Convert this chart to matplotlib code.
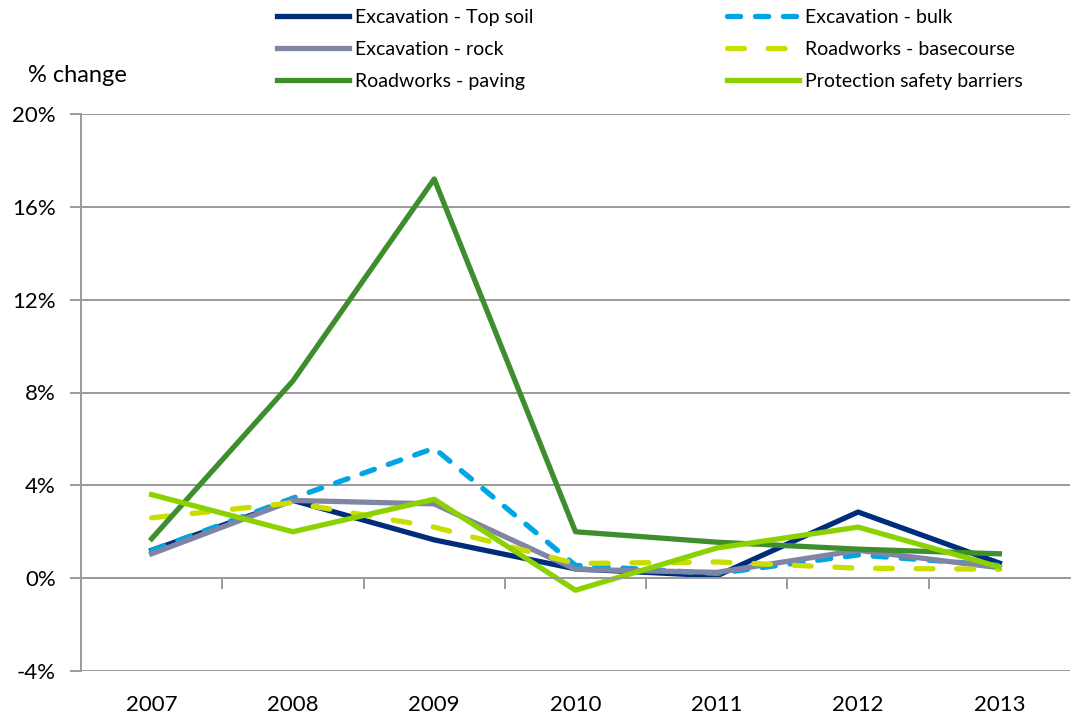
import matplotlib.pyplot as plt
from matplotlib.ticker import FixedLocator, PercentFormatter

years = ['2007', '2008', '2009', '2010', '2011', '2012', '2013']

# % change per year
top_soil = [1.2, 3.35, 1.65, 0.4, 0.1, 2.85, 0.65]
bulk = [1.2, 3.45, 5.6, 0.55, 0.2, 1.0, 0.55]
rock = [1.05, 3.35, 3.2, 0.38, 0.25, 1.2, 0.45]
basecourse = [2.6, 3.25, 2.2, 0.63, 0.7, 0.43, 0.38]
paving = [1.7, 8.5, 17.2, 2.0, 1.55, 1.25, 1.05]
barriers = [3.6, 2.0, 3.4, -0.52, 1.3, 2.2, 0.48]

plt.rcParams['font.family'] = ['Lato', 'DejaVu Sans']
plt.rcParams['axes.unicode_minus'] = False

fig = plt.figure(figsize=(10.71, 7.19), dpi=100)
ax = fig.add_axes([81/1071, 1-671/719, (1070-81)/1071, (671-114)/719])

x = range(len(years))
lw = 3.8
l1, = ax.plot(x, top_soil, color='#002C7C', lw=lw, label='Excavation - Top soil')
l2, = ax.plot(x, bulk, color='#00A5E3', lw=lw, dashes=(2.5, 2.8), dash_capstyle='round',
              label='Excavation - bulk')
l3, = ax.plot(x, rock, color='#8085A6', lw=lw, label='Excavation - rock')
l4, = ax.plot(x, basecourse, color='#C9DD00', lw=lw, dashes=(3.2, 4.5), dash_capstyle='round',
              label='Roadworks - basecourse')
l5, = ax.plot(x, paving, color='#3E8E2E', lw=lw, label='Roadworks - paving')
l6, = ax.plot(x, barriers, color='#8CD100', lw=lw, label='Protection safety barriers')

ax.set_xlim(-0.5, 6.5)
ax.set_ylim(-4, 20)
ax.set_yticks(range(-4, 21, 4))
ax.yaxis.set_major_formatter(PercentFormatter(decimals=0))
ax.grid(axis='y', color='#9A9A9A', lw=1.4)
ax.set_axisbelow(True)

for s in ['top', 'right']:
    ax.spines[s].set_visible(False)
ax.spines['left'].set_color('#9A9A9A')
ax.spines['left'].set_linewidth(1.4)
ax.spines['bottom'].set_position(('data', 0))
ax.spines['bottom'].set_color('#9A9A9A')
ax.spines['bottom'].set_linewidth(1.4)

ax.set_xticks(list(x))
ax.set_xticklabels(years)
ax.xaxis.set_minor_locator(FixedLocator([i + 0.5 for i in range(len(years) - 1)]))
ax.tick_params(axis='x', which='major', length=0, pad=84, labelsize=16)
ax.tick_params(axis='x', which='minor', length=8, width=1.4, color='#9A9A9A', direction='out')
ax.tick_params(axis='y', length=8, width=1.4, color='#9A9A9A', labelsize=16, pad=10)

fig.text(28/1071, 1-75/719, '% change', fontsize=17, va='center', ha='left')

leg_kw = dict(frameon=False, fontsize=14, handlelength=3.7, handletextpad=0.3,
              labelspacing=0.77, borderaxespad=0, borderpad=0)
leg1 = fig.legend(handles=[l1, l3, l5], loc='upper left',
                  bbox_to_anchor=(277/1071, 1-9/719), **leg_kw)
leg2 = fig.legend(handles=[l2, l4, l6], loc='upper left',
                  bbox_to_anchor=(727/1071, 1-9/719), **leg_kw)

fig.savefig('out.png', dpi=100)
